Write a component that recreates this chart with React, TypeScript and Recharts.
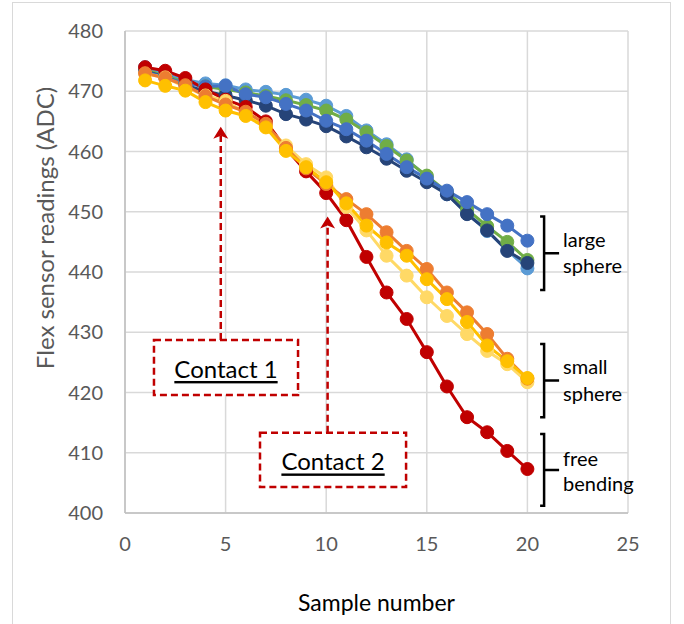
import { LineChart, Line, XAxis, YAxis, CartesianGrid, ReferenceArea, ReferenceLine } from "recharts";

const FONT = "Lato, 'Open Sans', sans-serif";
const RED = "#C00000";

// sample numbers and readings (ADC)
const samples = [1, 2, 3, 4, 5, 6, 7, 8, 9, 10, 11, 12, 13, 14, 15, 16, 17, 18, 19, 20];

// large sphere runs
const largeLight = [474.0, 472.8, 471.9, 471.3, 471.0, 470.3, 469.9, 469.4, 468.6, 467.6, 465.9, 463.5, 461.2, 458.7, 455.8, 452.9, 449.8, 446.8, 443.6, 440.6];
const largeGreen = [473.6, 472.5, 471.5, 470.8, 470.3, 469.8, 469.2, 468.5, 467.7, 466.8, 465.3, 463.2, 460.9, 458.5, 456.0, 453.3, 450.4, 447.6, 445.0, 442.0];
const largeNavy = [473.3, 472.4, 471.0, 470.0, 469.3, 468.5, 467.6, 466.2, 465.3, 464.2, 462.5, 460.7, 458.8, 456.8, 454.9, 452.9, 449.6, 446.9, 443.5, 441.5];
const largeBlue = [473.2, 472.3, 471.3, 470.8, 470.9, 469.5, 469.0, 467.9, 466.8, 465.1, 463.7, 461.8, 459.6, 457.4, 455.5, 453.5, 451.6, 449.6, 447.7, 445.2];

// small sphere runs
const smallPale = [472.9, 472.3, 470.7, 469.3, 468.4, 466.4, 464.2, 461.0, 457.9, 455.7, 450.8, 446.9, 442.7, 439.4, 435.8, 432.7, 429.7, 426.9, 424.7, 421.7];
const smallOrange = [473.0, 472.2, 471.0, 469.2, 467.8, 466.6, 464.6, 460.6, 457.2, 454.6, 452.1, 449.6, 446.6, 443.5, 440.5, 436.6, 433.3, 429.7, 425.6, 422.3];
const smallGold = [471.8, 470.9, 470.1, 468.2, 466.8, 465.9, 464.0, 460.1, 457.4, 454.9, 451.4, 447.7, 444.9, 442.7, 438.8, 435.5, 431.7, 427.8, 425.2, 422.4];

// free bending
const freeBend = [474.0, 473.4, 472.2, 470.3, 468.6, 467.4, 465.0, 460.5, 456.7, 453.1, 448.6, 442.5, 436.6, 432.2, 426.7, 421.0, 415.9, 413.4, 410.3, 407.3];

const xTicks = [0, 5, 10, 15, 20, 25];
const yTicks = [400, 410, 420, 430, 440, 450, 460, 470, 480];

const data = samples.map((s, i) => ({
  s,
  largeLight: largeLight[i],
  largeGreen: largeGreen[i],
  largeNavy: largeNavy[i],
  largeBlue: largeBlue[i],
  freeBend: freeBend[i],
  smallPale: smallPale[i],
  smallOrange: smallOrange[i],
  smallGold: smallGold[i],
}));

// drawing order: first is at the back
const series = [
  { key: "largeLight", color: "#5B9BD5" },
  { key: "largeGreen", color: "#70AD47" },
  { key: "largeNavy", color: "#264478" },
  { key: "largeBlue", color: "#4472C4" },
  { key: "freeBend", color: RED },
  { key: "smallPale", color: "#FFD966" },
  { key: "smallOrange", color: "#ED7D31" },
  { key: "smallGold", color: "#FFC000" },
];

function DashedArrow(props: any) {
  const { x1, y1, y2 } = props;
  const top = Math.min(y1, y2);
  const bottom = Math.max(y1, y2);
  const head = 12;
  return (
    <g>
      <line x1={x1} x2={x1} y1={bottom} y2={top + head - 3} stroke={RED} strokeWidth={2.5} strokeDasharray="7 4" />
      <path
        d={`M${x1},${top} L${x1 - 7.5},${top + head} L${x1},${top + head - 3} L${x1 + 7.5},${top + head} Z`}
        fill={RED}
      />
    </g>
  );
}

function Bracket(props: any) {
  const { x1, y1, y2, lines, offsets } = props;
  const top = Math.min(y1, y2);
  const bottom = Math.max(y1, y2);
  const mid = (top + bottom) / 2;
  return (
    <g>
      <path
        d={`M${x1 - 4},${top} L${x1},${top} L${x1},${bottom} L${x1 - 4},${bottom} M${x1},${mid} L${x1 + 15},${mid}`}
        fill="none"
        stroke="#000"
        strokeWidth={2.5}
      />
      {lines.map((t: string, i: number) => (
        <text
          key={t}
          x={x1 + 19}
          y={mid + offsets[i]}
          dominantBaseline="central"
          fontSize={20}
          fontFamily={FONT}
          fill="#000"
        >
          {t}
        </text>
      ))}
    </g>
  );
}

function ContactBox(props: any) {
  const { x, y, width, height, text } = props;
  return (
    <g>
      <rect x={x} y={y} width={width} height={height} fill="#fff" stroke={RED} strokeWidth={2.5} strokeDasharray="7 4" />
      <text
        x={x + width / 2}
        y={y + height / 2 + 1}
        textAnchor="middle"
        dominantBaseline="central"
        fontSize={24}
        fontFamily={FONT}
        fill="#000"
        textDecoration="underline"
      >
        {text}
      </text>
    </g>
  );
}

export default function App() {
  const tick = { fill: "#595959", fontSize: 20, fontFamily: FONT };
  return (
    <div style={{ position: "absolute", left: 0, top: 0, width: 684, height: 624, background: "#fff", fontFamily: FONT }}>
      <div
        style={{
          position: "absolute",
          left: 12,
          top: 2,
          width: 657,
          height: 660,
          border: "1px solid #d9d9d9",
        }}
      />
      <LineChart
        width={684}
        height={624}
        data={data}
        margin={{ top: 31, right: 56, left: 0, bottom: 0 }}
        style={{ position: "absolute", left: 0, top: 0 }}
      >
        <CartesianGrid stroke="#d9d9d9" strokeWidth={1.5} />
        <XAxis
          dataKey="s"
          type="number"
          domain={[0, 25]}
          ticks={xTicks}
          interval={0}
          height={111}
          axisLine={{ stroke: "#bfbfbf", strokeWidth: 1.5 }}
          tickLine={false}
          tickSize={0}
          tickMargin={24}
          tick={tick}
          label={{
            content: (p: any) => (
              <text
                x={p.viewBox.x + p.viewBox.width / 2}
                y={p.viewBox.y + 89}
                textAnchor="middle"
                dominantBaseline="central"
                fontSize={23}
                fontFamily={FONT}
                fill="#000"
              >
                Sample number
              </text>
            ),
          }}
        />
        <YAxis
          type="number"
          domain={[400, 480]}
          ticks={yTicks}
          interval={0}
          width={125}
          axisLine={{ stroke: "#bfbfbf", strokeWidth: 1.5 }}
          tickLine={false}
          tickSize={0}
          tickMargin={22}
          tick={tick}
          label={{
            content: (p: any) => {
              const cx = 44;
              const cy = p.viewBox.y + p.viewBox.height / 2 - 44;
              return (
                <text
                  x={cx}
                  y={cy}
                  transform={`rotate(-90 ${cx} ${cy})`}
                  textAnchor="middle"
                  dominantBaseline="central"
                  fontSize={24}
                  fontFamily={FONT}
                  fill="#595959"
                >
                  Flex sensor readings (ADC)
                </text>
              );
            },
          }}
        />
        {series.map((s) => (
          <Line
            key={s.key}
            dataKey={s.key}
            type="linear"
            stroke={s.color}
            strokeWidth={3}
            dot={{ r: 6.5, fill: s.color, stroke: s.color, strokeWidth: 1 }}
            activeDot={false}
            isAnimationActive={false}
          />
        ))}
        <ReferenceLine
          segment={[{ x: 4.76, y: 428.7 }, { x: 4.76, y: 464.1 }]}
          shape={(p: any) => <DashedArrow {...p} />}
        />
        <ReferenceLine
          segment={[{ x: 10.07, y: 413.3 }, { x: 10.07, y: 449.2 }]}
          shape={(p: any) => <DashedArrow {...p} />}
        />
        <ReferenceArea
          x1={1.44}
          x2={8.6}
          y1={419.6}
          y2={428.7}
          shape={(p: any) => <ContactBox {...p} text="Contact 1" />}
        />
        <ReferenceArea
          x1={6.71}
          x2={13.97}
          y1={404.3}
          y2={413.3}
          shape={(p: any) => <ContactBox {...p} text="Contact 2" />}
        />
        <ReferenceLine
          segment={[{ x: 20.83, y: 449.2 }, { x: 20.83, y: 437.0 }]}
          shape={(p: any) => <Bracket {...p} lines={["large", "sphere"]} offsets={[-14, 12]} />}
        />
        <ReferenceLine
          segment={[{ x: 20.83, y: 428.05 }, { x: 20.83, y: 415.9 }]}
          shape={(p: any) => <Bracket {...p} lines={["small", "sphere"]} offsets={[-15, 12]} />}
        />
        <ReferenceLine
          segment={[{ x: 20.83, y: 413.1 }, { x: 20.83, y: 401.2 }]}
          shape={(p: any) => <Bracket {...p} lines={["free", "bending"]} offsets={[-12, 13]} />}
        />
      </LineChart>
    </div>
  );
}
